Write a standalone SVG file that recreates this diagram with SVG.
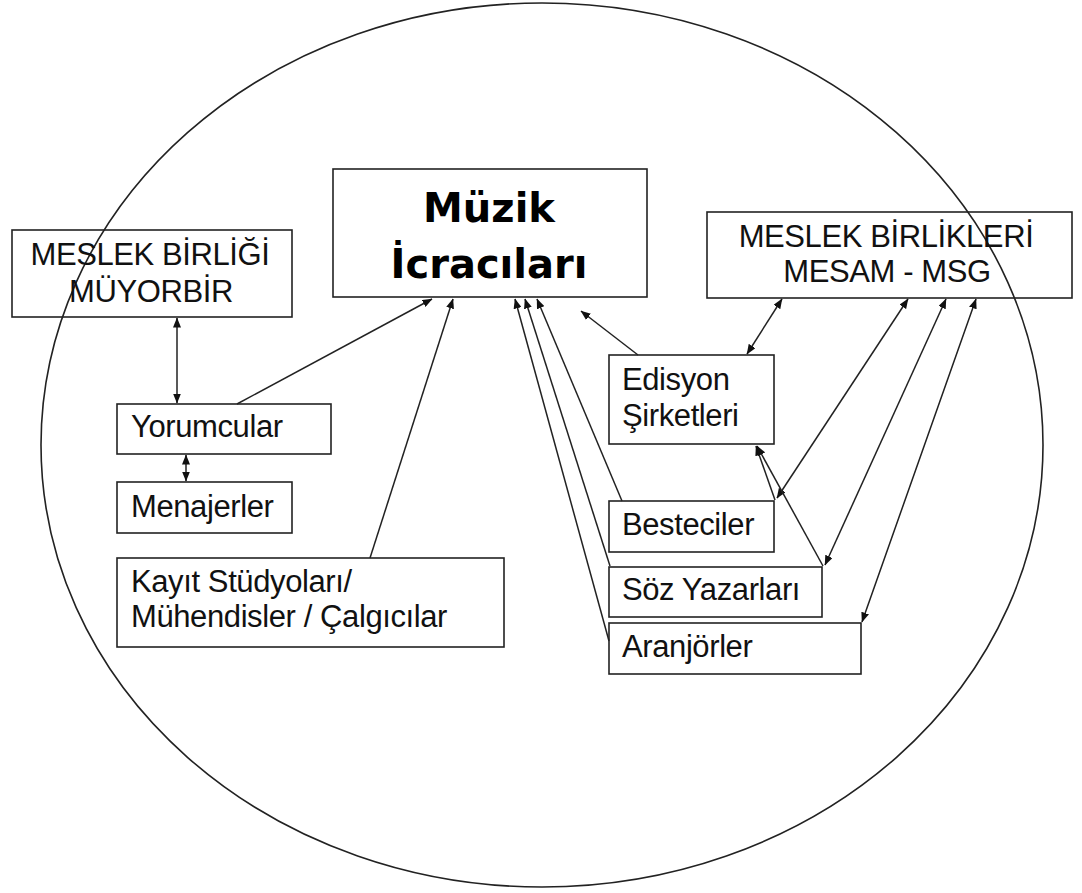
<svg xmlns="http://www.w3.org/2000/svg" width="1082" height="893" viewBox="0 0 1082 893">
<style>
.box{fill:none;stroke:#222;stroke-width:1.6}
.t{font-family:"Liberation Sans",Arial,sans-serif;font-size:31px;letter-spacing:-0.4px;fill:#111}
.tc{text-anchor:middle}
.big{font-family:"DejaVu Sans",Verdana,sans-serif;font-weight:bold;font-size:40px;fill:#000;text-anchor:middle}
.c{stroke:#222;stroke-width:1.5;fill:none}
</style>
<defs>
<marker id="ah" viewBox="0 0 10 8" refX="9.5" refY="4" markerWidth="10" markerHeight="8" markerUnits="userSpaceOnUse" orient="auto-start-reverse">
<path d="M0,0 L10,4 L0,8 Z" fill="#111"/>
</marker>
</defs>
<rect width="1082" height="893" fill="#fff"/>
<ellipse cx="542" cy="445" rx="501" ry="442" fill="none" stroke="#222" stroke-width="1.6"/>
<g id="muzik"><rect class="box" x="333" y="169" width="314" height="128"/><text class="big" x="489" y="222">Müzik</text><text class="big" x="489" y="278">İcracıları</text></g>
<g id="muyorbir"><rect class="box" x="12" y="230" width="280" height="87"/><text class="t tc" x="150" y="265">MESLEK BİRLİĞİ</text><text class="t tc" x="151" y="302">MÜYORBİR</text></g>
<g id="mesam"><rect class="box" x="707" y="212" width="365" height="86"/><text class="t tc" x="886" y="247">MESLEK BİRLİKLERİ</text><text class="t tc" x="887" y="282">MESAM - MSG</text></g>
<g id="yorumcular"><rect class="box" x="117" y="404" width="214" height="50"/><text class="t" x="131" y="437">Yorumcular</text></g>
<g id="menajerler"><rect class="box" x="117" y="482" width="175" height="51"/><text class="t" x="131" y="517">Menajerler</text></g>
<g id="kayit"><rect class="box" x="117" y="558" width="387" height="89"/><text class="t" x="131" y="592">Kayıt Stüdyoları/</text><text class="t" x="131" y="627">Mühendisler / Çalgıcılar</text></g>
<g id="edisyon"><rect class="box" x="609" y="355" width="165" height="89"/><text class="t" x="622" y="390">Edisyon</text><text class="t" x="622" y="426">Şirketleri</text></g>
<g id="besteciler"><rect class="box" x="609" y="501" width="165" height="51"/><text class="t" x="622" y="535">Besteciler</text></g>
<g id="soz"><rect class="box" x="609" y="567" width="213" height="50"/><text class="t" x="622" y="600">Söz Yazarları</text></g>
<g id="aranjorler"><rect class="box" x="609" y="623" width="252" height="51"/><text class="t" x="622" y="657">Aranjörler</text></g>
<g id="connectors">
<line class="c" x1="177" y1="318" x2="177" y2="403" marker-start="url(#ah)" marker-end="url(#ah)"/>
<line class="c" x1="186" y1="455" x2="186" y2="481" marker-start="url(#ah)" marker-end="url(#ah)"/>
<line class="c" x1="237" y1="404" x2="432" y2="299" marker-end="url(#ah)"/>
<line class="c" x1="370" y1="558" x2="453" y2="299" marker-end="url(#ah)"/>
<line class="c" x1="609" y1="641" x2="515" y2="299" marker-end="url(#ah)"/>
<line class="c" x1="610" y1="566" x2="525" y2="299" marker-end="url(#ah)"/>
<line class="c" x1="622" y1="501" x2="537" y2="299" marker-end="url(#ah)"/>
<line class="c" x1="638" y1="355" x2="581" y2="311" marker-end="url(#ah)"/>
<line class="c" x1="747" y1="354" x2="782" y2="299" marker-start="url(#ah)" marker-end="url(#ah)"/>
<line class="c" x1="777" y1="498" x2="908" y2="299" marker-start="url(#ah)" marker-end="url(#ah)"/>
<line class="c" x1="825" y1="565" x2="946" y2="299" marker-start="url(#ah)" marker-end="url(#ah)"/>
<line class="c" x1="862" y1="622" x2="976" y2="299" marker-start="url(#ah)" marker-end="url(#ah)"/>
<line class="c" x1="775" y1="500" x2="756" y2="446" marker-end="url(#ah)"/>
<line class="c" x1="823" y1="566" x2="757" y2="446" marker-end="url(#ah)"/>
</g>
</svg>
